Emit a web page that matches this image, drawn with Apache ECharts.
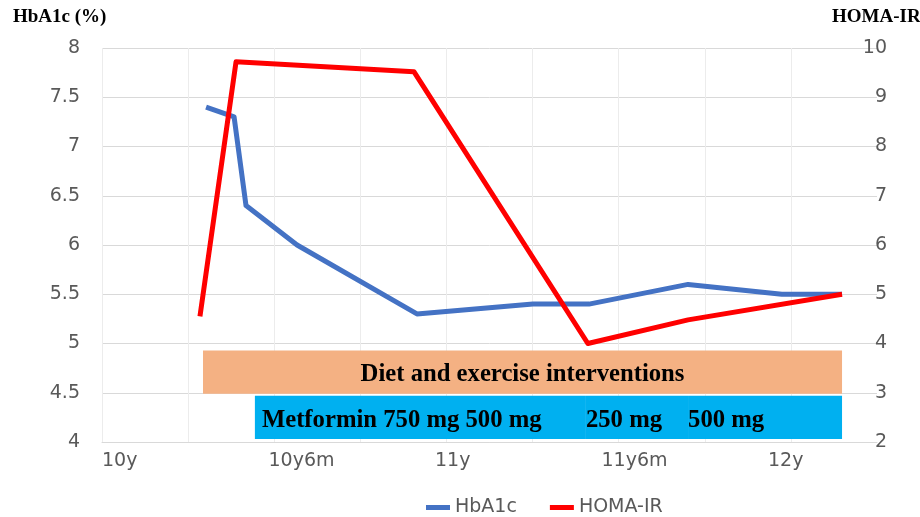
<!DOCTYPE html>
<html>
<head>
<meta charset="utf-8">
<script src="https://cdn.jsdelivr.net/npm/echarts@6/dist/echarts.min.js"></script>
<style>html,body{margin:0;padding:0;background:#fff}#c{width:920px;height:517px}</style>
</head>
<body>
<div id="c"></div>
<script>
// time axis in months from age 10y
const xTickLabels = ['10y', '10y6m', '11y', '11y6m', '12y'];
const xTickStepMonths = 6;
const xMaxMonths = 27.93;
const xGridCount = 9;

const hba1cMonths = [3.75, 4.76, 5.19, 7.03, 11.35, 15.53, 17.55, 21.12, 24.5, 26.67];
const hba1cValues = [7.4, 7.3, 6.4, 6.0, 5.3, 5.4, 5.4, 5.6, 5.5, 5.5];

const homaMonths = [3.53, 4.83, 11.24, 17.51, 21.12, 26.67];
const homaValues = [4.55, 9.72, 9.52, 4.0, 4.48, 5.0];

// intervention bands (months, HbA1c scale)
const dietBand = { from: 3.64, to: 26.67, low: 4.49, high: 4.93, text: 'Diet and exercise interventions' };
const metforminEnd = 26.67;
const metforminSteps = [
  { from: 5.51, text: 'Metformin 750 mg 500 mg' },
  { from: 17.44, text: '250 mg' },
  { from: 21.12, text: '500 mg' }
];
const metforminLow = 4.03, metforminHigh = 4.47;

const serif = '"Liberation Serif", "Times New Roman", serif';
const sans = '"DejaVu Sans", Verdana, sans-serif';
const grey = '#595959';

const bandLabel = {
  show: true, fontFamily: serif, fontWeight: 'bold', fontSize: 24.7, color: '#000', offset: [0, 3]
};

const markAreaData = [
  [
    { name: dietBand.text, xAxis: dietBand.from, yAxis: dietBand.low,
      itemStyle: { color: '#F4B183', opacity: 1 },
      label: Object.assign({}, bandLabel, { position: 'inside' }) },
    { xAxis: dietBand.to, yAxis: dietBand.high }
  ]
];
metforminSteps.forEach((s, i) => {
  const to = i < metforminSteps.length - 1 ? metforminSteps[i + 1].from : metforminEnd;
  markAreaData.push([
    { name: s.text, xAxis: s.from, yAxis: metforminLow,
      itemStyle: { color: '#00B0F0', opacity: 1, borderWidth: 0 },
      label: Object.assign({}, bandLabel, { position: 'insideLeft', distance: i === 0 ? 7 : 0 }) },
    { xAxis: to, yAxis: metforminHigh }
  ]);
});

const chart = echarts.init(document.getElementById('c'), null, { renderer: 'canvas' });
chart.setOption({
  animation: false,
  backgroundColor: '#fff',
  title: [
    { text: 'HbA1c (%)', left: 13, top: 8, padding: 0,
      textStyle: { fontFamily: serif, fontWeight: 'bold', fontSize: 19, color: '#000' } },
    { text: 'HOMA-IR', left: 832, top: 8, padding: 0,
      textStyle: { fontFamily: serif, fontWeight: 'bold', fontSize: 19, color: '#000' } }
  ],
  grid: { left: 102, right: 43, top: 48, bottom: 75, containLabel: false },
  legend: {
    left: 421, top: 493,
    itemWidth: 24, itemHeight: 5, itemGap: 33,
    textStyle: { fontFamily: sans, fontSize: 19, color: grey },
    data: [
      { name: 'HbA1c', icon: 'rect' },
      { name: 'HOMA-IR', icon: 'rect' }
    ]
  },
  xAxis: [
    {
      type: 'value', min: 0, max: xGridCount, interval: 1, position: 'bottom',
      axisLine: { show: true, lineStyle: { color: '#D9D9D9', width: 1 } },
      axisTick: { show: false }, axisLabel: { show: false },
      splitLine: { show: true, showMaxLine: false, lineStyle: { color: '#ECECEC', width: 1 } }
    },
    {
      type: 'value', min: 0, max: xMaxMonths, interval: xTickStepMonths, position: 'bottom',
      axisLine: { show: false }, axisTick: { show: false }, splitLine: { show: false },
      axisLabel: {
        show: true, align: 'left', margin: 10, fontFamily: sans, fontSize: 19, color: grey,
        showMaxLabel: false,
        formatter: v => {
          const k = Math.round(v / xTickStepMonths);
          return Math.abs(k * xTickStepMonths - v) < 1e-6 && xTickLabels[k] ? xTickLabels[k] : '';
        }
      }
    }
  ],
  yAxis: [
    {
      type: 'value', min: 4, max: 8, interval: 0.5, position: 'left',
      axisLine: { show: false }, axisTick: { show: false },
      axisLabel: { margin: 22, fontFamily: sans, fontSize: 19, color: grey },
      splitLine: { show: true, lineStyle: { color: '#D9D9D9', width: 1 } }
    },
    {
      type: 'value', min: 2, max: 10, interval: 1, position: 'right',
      axisLine: { show: false }, axisTick: { show: false },
      axisLabel: { margin: 10, align: 'right', fontFamily: sans, fontSize: 19, color: grey },
      splitLine: { show: false }
    }
  ],
  series: [
    {
      name: 'HbA1c', type: 'line', xAxisIndex: 1, yAxisIndex: 0,
      data: hba1cMonths.map((m, i) => [m, hba1cValues[i]]),
      showSymbol: false, symbol: 'none',
      lineStyle: { color: '#4472C4', width: 5, join: 'round' },
      itemStyle: { color: '#4472C4' },
      z: 3,
      markArea: { silent: true, data: markAreaData }
    },
    {
      name: 'HOMA-IR', type: 'line', xAxisIndex: 1, yAxisIndex: 1,
      data: homaMonths.map((m, i) => [m, homaValues[i]]),
      showSymbol: false, symbol: 'none',
      lineStyle: { color: '#FF0000', width: 5, join: 'round' },
      itemStyle: { color: '#FF0000' },
      z: 4
    }
  ]
});
</script>
</body>
</html>
